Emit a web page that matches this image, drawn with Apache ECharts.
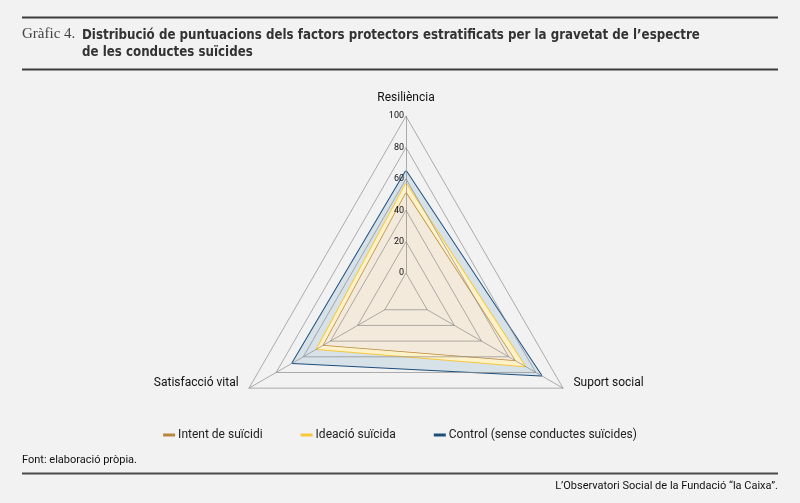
<!DOCTYPE html>
<html>
<head>
<meta charset="utf-8">
<script src="https://cdn.jsdelivr.net/npm/echarts@6/dist/echarts.min.js"></script>
<style>
  html, body { margin: 0; padding: 0; background: #f2f2f2; }
  #chart { width: 800px; height: 503px; }
</style>
</head>
<body>
<div id="chart"></div>

<script>
  // indicators in ECharts order (counter-clockwise from the top)
  const indicators = ['Resiliència', 'Satisfacció vital', 'Suport social'];
  const seriesNames = ['Control (sense conductes suïcides)', 'Ideació suïcida', 'Intent de suïcidi'];
  const controlValues = [65, 68, 84];
  const ideacioValues = [57, 50, 72];
  const intentValues = [51, 45, 64.5];
  const legendOrder = ['Intent de suïcidi', 'Ideació suïcida', 'Control (sense conductes suïcides)'];

  const lineColors = ['#1d4e7b', '#f7c83c', '#b8873d'];
  const fillColors = ['#d6e1e8', '#fff2c8', '#f4eadb'];

  const ready = (fn) => {
    if (document.readyState !== "loading") {
      fn();
    } else {
      document.addEventListener("DOMContentLoaded", fn);
    }
  };

  ready(() => {
    const chartDom = document.getElementById("chart");
    const myChart = echarts.init(chartDom, null, { renderer: "canvas" });

    const values = [controlValues, ideacioValues, intentValues];
    const font = 'Roboto, "Noto Sans", sans-serif';

    const option = {
      backgroundColor: '#f2f2f2',
      textStyle: { fontFamily: font },
      animation: false,
      legend: {
        data: legendOrder,
        top: 424,
        left: 'center',
        icon: 'rect',
        itemWidth: 12,
        itemHeight: 3,
        itemGap: 38,
        textStyle: { fontSize: 12, color: '#222', fontFamily: font, padding: [0, 0, 0, -2] }
      },
      radar: {
        z: 5,
        center: [406, 297.5],
        radius: [24.5, 181.3],
        startAngle: 90,
        shape: 'polygon',
        splitNumber: 5,
        indicator: indicators.map((name, i) => {
          const ind = {
            name: name,
            min: 0,
            max: 100,
            axisLabel: { show: i === 0 }
          };
          if (i > 0) {
            ind.nameTextStyle = { verticalAlign: 'bottom', padding: [0, 0, 5, 0] };
          }
          return ind;
        }),
        axisName: { color: '#111', fontSize: 12, fontFamily: font },
        nameGap: 12,
        splitArea: { show: false },
        splitLine: { lineStyle: { color: 'rgba(140,140,140,0.7)', width: 1 } },
        axisLine: { lineStyle: { color: 'rgba(140,140,140,0.7)', width: 1 } },
        axisTick: { show: false },
        axisLabel: { show: false, fontSize: 9, color: '#111', margin: 2, fontFamily: font }
      },
      series: [{
        type: 'radar',
        z: 2,
        symbol: 'none',
        data: values.map((v, i) => ({
          name: seriesNames[i],
          value: v,
          itemStyle: { color: lineColors[i] },
          lineStyle: { color: lineColors[i], width: i === 2 ? 1.5 : 2 },
          areaStyle: { color: fillColors[i], opacity: 1 }
        }))
      }],
      graphic: [
        { type: 'line', shape: { x1: 22, y1: 17.5, x2: 778, y2: 17.5 }, style: { stroke: '#3c3c3c', lineWidth: 2 } },
        { type: 'line', shape: { x1: 22, y1: 69.5, x2: 778, y2: 69.5 }, style: { stroke: '#3c3c3c', lineWidth: 2 } },
        { type: 'line', shape: { x1: 22, y1: 473.5, x2: 778, y2: 473.5 }, style: { stroke: '#4a4a4a', lineWidth: 2 } },
        {
          type: 'text', left: 22, top: 27,
          style: { text: 'Gràfic 4.', font: '15px "Liberation Serif", "DejaVu Serif", serif', fill: '#444' }
        },
        {
          type: 'text', left: 82, top: 27,
          style: {
            text: 'Distribució de puntuacions dels factors protectors estratificats per la gravetat de l’espectre\nde les conductes suïcides',
            font: 'bold 13.2px "DejaVu Sans Condensed", sans-serif',
            fill: '#333', lineHeight: 17
          }
        },
        {
          type: 'text', left: 22, top: 455,
          style: { text: 'Font: elaboració pròpia.', font: '11px ' + font, fill: '#111' }
        },
        {
          type: 'text', right: 22, top: 481,
          style: { text: 'L’Observatori Social de la Fundació “la Caixa”.', font: '11px ' + font, fill: '#111' }
        }
      ]
    };
    myChart.setOption(option);
  });
</script>
</body>
</html>
